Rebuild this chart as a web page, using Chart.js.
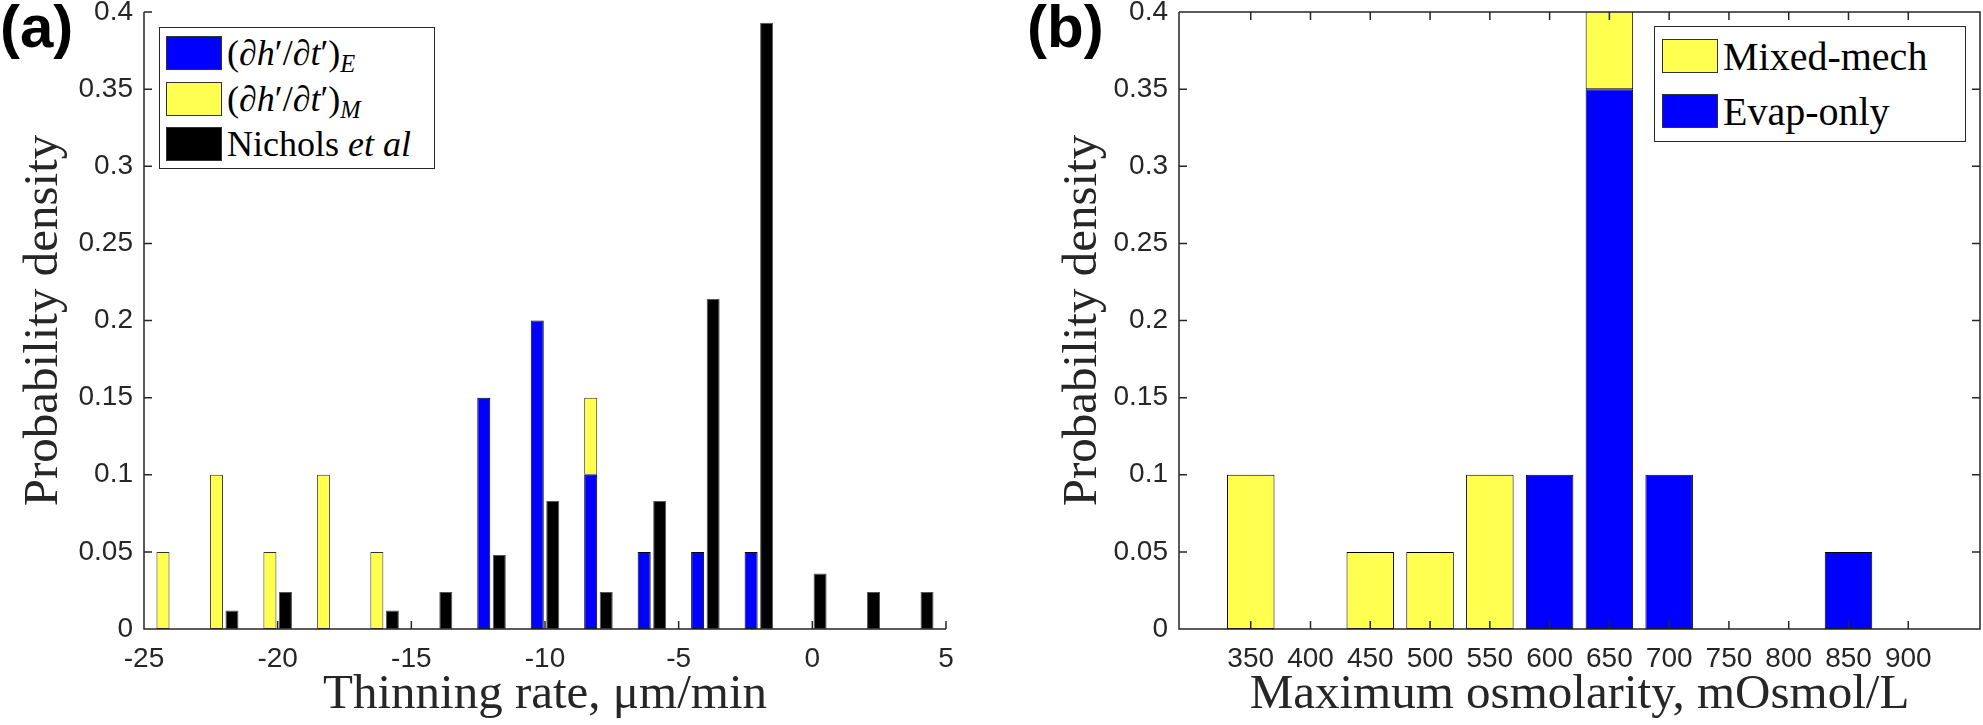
<!DOCTYPE html>
<html>
<head>
<meta charset="utf-8">
<script src="https://cdn.jsdelivr.net/npm/chart.js@4.4.1/dist/chart.umd.min.js"></script>
<style>
  body { margin: 0; background: #fff; width: 1983px; height: 725px; position: relative; overflow: hidden; }
  .panel { position: absolute; top: 0; height: 725px; }
  #panelA { left: 0; width: 1000px; }
  #panelB { left: 1000px; width: 983px; }
  .tag { position: absolute; top: -3px; font: bold 60px 'Liberation Sans', Arial, sans-serif; line-height: 60px; color: #000; }
  .legend { position: absolute; background: #fff; border: 1.5px solid #262626; font-family: 'Liberation Serif', 'Times New Roman', serif; color: #000; box-sizing: border-box; }
  .legend .row { position: absolute; display: flex; align-items: center; white-space: nowrap; }
  .legend .sw { width: 56px; height: 34px; border: 1.5px solid #333; box-sizing: border-box; margin-right: 5px; flex: none; }
  .legend sub { font-style: italic; font-size: 0.68em; vertical-align: -0.3em; line-height: 0; }
</style>
</head>
<body>
<div class="panel" id="panelA"><canvas id="chartA"></canvas></div>
<div class="panel" id="panelB"><canvas id="chartB"></canvas></div>
<div class="tag" style="left:0">(a)</div>
<div class="tag" style="left:1027px">(b)</div>
<div class="legend" id="legendA" style="left:159px;top:27px;width:276px;height:142px;font-size:36px"></div>
<div class="legend" id="legendB" style="left:1654px;top:26px;width:312px;height:116px;font-size:40px"></div>
<script>
// panel (a): thinning rate histogram
const rateBins = [-24, -22, -20, -18, -16, -14, -12, -10, -8, -6, -4, -2, 0, 2, 4];
const rateEvap = [0, 0, 0, 0, 0, 0, 0.15, 0.2, 0.1, 0.05, 0.05, 0.05, 0, 0, 0];
const rateMixed = [0.05, 0.1, 0.05, 0.1, 0.05, 0, 0, 0, 0.05, 0, 0, 0, 0, 0, 0];
const rateNichols = [0, 0.012, 0.024, 0, 0.012, 0.024, 0.048, 0.083, 0.024, 0.083, 0.214, 0.393, 0.036, 0.024, 0.024];
const rateTicks = [-25, -20, -15, -10, -5, 0, 5];

// panel (b): maximum osmolarity histogram
const osmBins = [350, 400, 450, 500, 550, 600, 650, 700, 750, 800, 850, 900];
const osmEvap = [0, 0, 0, 0, 0, 0.1, 0.35, 0.1, 0, 0, 0.05, 0];
const osmMixed = [0.1, 0, 0.05, 0.05, 0.1, 0, 0.1, 0, 0, 0, 0, 0];

const densityTicks = [0, 0.05, 0.1, 0.15, 0.2, 0.25, 0.3, 0.35, 0.4];

const blue = '#0000ff';
const yellow = '#ffff4f';
const axisColor = '#262626';

const legendA = [
  { color: blue, html: '(∂<i>h</i>′/∂<i>t</i>′)<sub>E</sub>' },
  { color: yellow, html: '(∂<i>h</i>′/∂<i>t</i>′)<sub>M</sub>' },
  { color: '#000', html: 'Nichols <i>et al</i>' }
];
const legendB = [
  { color: yellow, html: 'Mixed-mech' },
  { color: blue, html: 'Evap-only' }
];

const tickFont = { family: "'Liberation Sans', Arial, Helvetica, sans-serif", size: 28 };
const titleFont = { family: "'Liberation Serif', 'Times New Roman', serif", size: 49 };

const toPoints = (xs, ys) => xs.map((x, i) => ({ x, y: ys[i] }));

// MATLAB-like axes: lines plus inward tick marks, drawn over the bars
const axisFrame = {
  id: 'axisFrame',
  afterDatasetsDraw(chart, args, opts) {
    const { ctx, chartArea: a, scales: { x, y } } = chart;
    const len = 8;
    ctx.save();
    ctx.strokeStyle = axisColor;
    ctx.lineWidth = 1.5;
    ctx.beginPath();
    ctx.moveTo(a.left, a.top);
    ctx.lineTo(a.left, a.bottom);
    ctx.lineTo(a.right, a.bottom);
    if (opts.box) {
      ctx.lineTo(a.right, a.top);
      ctx.lineTo(a.left, a.top);
    }
    x.ticks.forEach(t => {
      const px = x.getPixelForValue(t.value);
      ctx.moveTo(px, a.bottom);
      ctx.lineTo(px, a.bottom - len);
      if (opts.box) {
        ctx.moveTo(px, a.top);
        ctx.lineTo(px, a.top + len);
      }
    });
    y.ticks.forEach(t => {
      const py = y.getPixelForValue(t.value);
      ctx.moveTo(a.left, py);
      ctx.lineTo(a.left + len, py);
      if (opts.box) {
        ctx.moveTo(a.right, py);
        ctx.lineTo(a.right - len, py);
      }
    });
    ctx.stroke();
    ctx.restore();
  }
};

const yScale = (width, titlePad) => ({
  min: 0,
  max: 0.4,
  stacked: true,
  grid: { display: false, drawTicks: false },
  border: { display: false },
  afterBuildTicks: s => { s.ticks = densityTicks.map(v => ({ value: v })); },
  afterFit: s => {
    s.width = width;
    s.paddingTop = 0;
    s.paddingBottom = 0;
  },
  ticks: { font: tickFont, color: axisColor, padding: 11, callback: v => String(+v.toFixed(2)) },
  title: { display: true, text: 'Probability density', font: titleFont, color: axisColor, padding: { top: titlePad, bottom: 0 } }
});

const xScale = (min, max, ticks, text, extra) => Object.assign({
  type: 'linear',
  min,
  max,
  offset: false,
  grid: { display: false, drawTicks: false, offset: false },
  border: { display: false },
  afterBuildTicks: s => { s.ticks = ticks.map(v => ({ value: v })); },
  afterFit: s => {
    s.height = 96;
    s.paddingLeft = 0;
    s.paddingRight = 0;
  },
  ticks: { font: tickFont, color: axisColor, padding: 13, maxRotation: 0, autoSkip: false },
  title: { display: true, text, font: titleFont, color: axisColor, padding: { top: 0, bottom: 0 } }
}, extra);

new Chart(document.getElementById('chartA'), {
  type: 'bar',
  data: {
    datasets: [
      { label: '(∂h′/∂t′)E', data: toPoints(rateBins, rateEvap), backgroundColor: blue, borderColor: '#000', stack: 'model' },
      { label: '(∂h′/∂t′)M', data: toPoints(rateBins, rateMixed), backgroundColor: yellow, borderColor: '#333', stack: 'model' },
      { label: 'Nichols et al', data: toPoints(rateBins, rateNichols), backgroundColor: '#000', borderColor: '#555', stack: 'nichols' }
    ]
  },
  options: {
    responsive: true,
    maintainAspectRatio: false,
    animation: false,
    layout: { padding: { top: 12, right: 54, bottom: 0, left: 0 } },
    datasets: { bar: { categoryPercentage: 0.58, barPercentage: 0.84, borderWidth: 1, borderSkipped: false } },
    plugins: { legend: { display: false }, tooltip: { enabled: false }, axisFrame: { box: false } },
    scales: {
      x: xScale(-25, 5, rateTicks, 'Thinning rate, μm/min'),
      y: yScale(144, 15)
    }
  },
  plugins: [axisFrame]
});

new Chart(document.getElementById('chartB'), {
  type: 'bar',
  data: {
    datasets: [
      { label: 'Evap-only', data: toPoints(osmBins, osmEvap), backgroundColor: blue, borderColor: '#000', clip: 0 },
      { label: 'Mixed-mech', data: toPoints(osmBins, osmMixed), backgroundColor: yellow, borderColor: '#000', clip: 0 }
    ]
  },
  options: {
    responsive: true,
    maintainAspectRatio: false,
    animation: false,
    layout: { padding: { top: 12, right: 3, bottom: 0, left: 0 } },
    datasets: { bar: { categoryPercentage: 1, barPercentage: 0.795, borderWidth: 1, borderSkipped: false } },
    plugins: { legend: { display: false }, tooltip: { enabled: false }, axisFrame: { box: true } },
    scales: {
      x: xScale(290, 960, osmBins, 'Maximum osmolarity, mOsmol/L', { stacked: true }),
      y: yScale(179, 54)
    }
  },
  plugins: [axisFrame]
});

// html legends (allow italics and subscripts)
const buildLegend = (id, items, top0, pitch, left) => {
  const box = document.getElementById(id);
  items.forEach((it, i) => {
    const row = document.createElement('div');
    row.className = 'row';
    row.style.top = (top0 + i * pitch) + 'px';
    row.style.left = left + 'px';
    row.style.height = '34px';
    row.innerHTML = '<span class="sw" style="background:' + it.color + '"></span><span>' + it.html + '</span>';
    box.appendChild(row);
  });
};
buildLegend('legendA', legendA, 8, 45.5, 6);
buildLegend('legendB', legendB, 12, 55, 7);
</script>
</body>
</html>
